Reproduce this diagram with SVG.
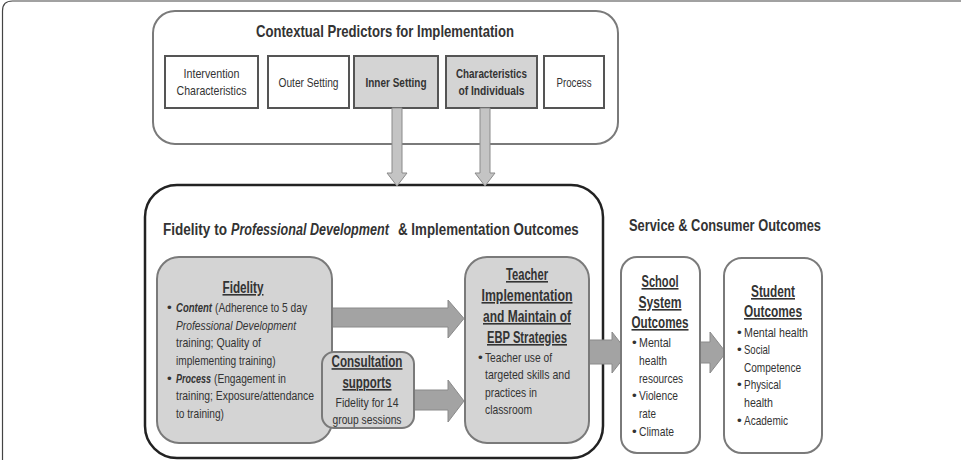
<svg xmlns="http://www.w3.org/2000/svg" width="963" height="460" viewBox="0 0 963 460">
<style>
text{font-family:"Liberation Sans",Arial,sans-serif;fill:#333}
.t{font-size:17px;font-weight:bold}
.s{font-size:13px}
.sb{font-size:13px;font-weight:bold}
.h{font-size:16px;font-weight:bold;text-decoration:underline}
.b{font-size:13.5px}
.bi{font-size:13.5px;font-weight:bold;font-style:italic}
.c{text-anchor:middle}
.box{fill:#fff;stroke:#555;stroke-width:2}
.gbox{fill:#d4d4d4;stroke:#555;stroke-width:2}
.rg{fill:#d4d4d4;stroke:#7a7a7a;stroke-width:2}
.rw{fill:#fff;stroke:#7a7a7a;stroke-width:2}
.arr{fill:#a3a3a3;stroke:#8a8a8a;stroke-width:1}
.varr{fill:#c4c4c4;stroke:#8a8a8a;stroke-width:1}
</style>
<path d="M2.5,460 V11 Q2.5,1 12.5,1 H961" fill="none" stroke="#444" stroke-width="1.2"/>

<g id="contextual-predictors">
<rect x="153" y="11" width="465" height="133" rx="22" fill="#fff" stroke="#7a7a7a" stroke-width="2"/>
<text class="t c" x="385" y="37" textLength="258" lengthAdjust="spacingAndGlyphs">Contextual Predictors for Implementation</text>
</g>
<g id="intervention-characteristics">
<rect class="box" x="165" y="56" width="93" height="52"/>
<text class="s c" x="211.5" y="78" textLength="56" lengthAdjust="spacingAndGlyphs">Intervention</text>
<text class="s c" x="211.5" y="95" textLength="70" lengthAdjust="spacingAndGlyphs">Characteristics</text>
</g>
<g id="outer-setting">
<rect class="box" x="268" y="56" width="81" height="52"/>
<text class="s c" x="308.5" y="87" textLength="60" lengthAdjust="spacingAndGlyphs">Outer Setting</text>
</g>
<g id="inner-setting">
<rect class="gbox" x="354" y="56" width="84" height="52"/>
<text class="sb c" x="396" y="87" textLength="61" lengthAdjust="spacingAndGlyphs">Inner Setting</text>
</g>
<g id="characteristics-of-individuals">
<rect class="gbox" x="446" y="56" width="91" height="52"/>
<text class="sb c" x="491.5" y="78" textLength="71" lengthAdjust="spacingAndGlyphs">Characteristics</text>
<text class="sb c" x="491.5" y="95" textLength="66" lengthAdjust="spacingAndGlyphs">of Individuals</text>
</g>
<g id="process">
<rect class="box" x="544" y="56" width="60" height="52"/>
<text class="s c" x="574" y="87" textLength="35" lengthAdjust="spacingAndGlyphs">Process</text>
</g>

<g id="fidelity-implementation">
<rect x="145" y="185" width="458" height="273" rx="32" fill="#fff" stroke="#222" stroke-width="2.5"/>
<text class="t" transform="translate(163,235) scale(0.797,1)">Fidelity to</text>
<text class="t" font-style="italic" transform="translate(231,235) scale(0.74,1)">Professional Development</text>
<text class="t" transform="translate(398,235) scale(0.785,1)">&amp; Implementation Outcomes</text>
</g>

<g id="service-consumer">
<text class="t" x="629" y="231" textLength="192" lengthAdjust="spacingAndGlyphs">Service &amp; Consumer  Outcomes</text>
</g>

<g id="connectors">
<path class="varr" d="M392,108 V173 H387 L397,186 L407,173 H402 V108 Z"/>
<path class="varr" d="M480,108 V173 H475 L485,186 L495,173 H490 V108 Z"/>
<path class="arr" d="M332,308 H448 V300 L464,318.5 L448,338 V327 H332 Z"/>
<path class="arr" d="M414,390 H448 V380 L464,401 L448,422 V410 H414 Z"/>
<path class="arr" d="M589,340 H612 V332 L628,352.5 L612,373 V364 H589 Z"/>
<path class="arr" d="M700,342 H710 V332 L726,352.5 L710,373 V363 H700 Z"/>
</g>

<g id="fidelity">
<rect class="rg" x="157" y="257" width="175" height="186" rx="22"/>
<text class="h c" x="243" y="293" textLength="41" lengthAdjust="spacingAndGlyphs">Fidelity</text>
<text class="b" x="167" y="312">•</text>
<text class="bi" transform="translate(176,312) scale(0.706,1)">Content</text>
<text class="b" transform="translate(215,312) scale(0.757,1)">(Adherence to 5 day</text>
<text class="b" x="176" y="330" font-style="italic" textLength="120" lengthAdjust="spacingAndGlyphs">Professional Development</text>
<text class="b" x="176" y="347" textLength="85" lengthAdjust="spacingAndGlyphs">training; Quality of</text>
<text class="b" transform="translate(176,365) scale(0.75,1)">implementing training)</text>
<text class="b" x="167" y="383">•</text>
<text class="bi" transform="translate(176,383) scale(0.667,1)">Process</text>
<text class="b" transform="translate(214,383) scale(0.755,1)">(Engagement in</text>
<text class="b" transform="translate(176,400) scale(0.77,1)">training; Exposure/attendance</text>
<text class="b" x="176" y="418" textLength="48" lengthAdjust="spacingAndGlyphs">to training)</text>
</g>

<g id="consultation-supports">
<rect class="rg" x="322" y="352" width="92" height="76" rx="12"/>
<text class="h c" transform="translate(367,367) scale(0.726,1)">Consultation</text>
<text class="h c" x="367" y="388" textLength="49" lengthAdjust="spacingAndGlyphs">supports</text>
<text class="b c" transform="translate(367,407) scale(0.778,1)">Fidelity for 14</text>
<text class="b c" transform="translate(367,424) scale(0.76,1)">group sessions</text>
</g>

<g id="teacher-implementation">
<rect class="rg" x="465" y="257" width="124" height="186" rx="22"/>
<text class="h c" x="527" y="280" textLength="42" lengthAdjust="spacingAndGlyphs">Teacher</text>
<text class="h c" x="527" y="301" textLength="91" lengthAdjust="spacingAndGlyphs">Implementation</text>
<text class="h c" x="527" y="322" textLength="88" lengthAdjust="spacingAndGlyphs">and Maintain of</text>
<text class="h c" x="527" y="343" textLength="80" lengthAdjust="spacingAndGlyphs">EBP Strategies</text>
<text class="b" x="478" y="362">•</text>
<text class="b" x="485" y="362" textLength="67" lengthAdjust="spacingAndGlyphs">Teacher use of</text>
<text class="b" x="485" y="379" textLength="85" lengthAdjust="spacingAndGlyphs">targeted skills and</text>
<text class="b" x="485" y="397" textLength="52" lengthAdjust="spacingAndGlyphs">practices in</text>
<text class="b" x="485" y="414" textLength="47" lengthAdjust="spacingAndGlyphs">classroom</text>
</g>

<g id="school-system-outcomes">
<rect class="rw" x="621" y="257" width="79" height="196" rx="16"/>
<text class="h c" x="660" y="287" textLength="37" lengthAdjust="spacingAndGlyphs">School</text>
<text class="h c" x="660" y="308" textLength="43" lengthAdjust="spacingAndGlyphs">System</text>
<text class="h c" x="660" y="328" textLength="57" lengthAdjust="spacingAndGlyphs">Outcomes</text>
<text class="b" x="632" y="347">•</text>
<text class="b" x="639" y="347" textLength="32" lengthAdjust="spacingAndGlyphs">Mental</text>
<text class="b" x="639" y="365" textLength="28" lengthAdjust="spacingAndGlyphs">health</text>
<text class="b" x="639" y="383" textLength="44" lengthAdjust="spacingAndGlyphs">resources</text>
<text class="b" x="632" y="400">•</text>
<text class="b" x="639" y="400" textLength="39" lengthAdjust="spacingAndGlyphs">Violence</text>
<text class="b" x="639" y="418" textLength="17" lengthAdjust="spacingAndGlyphs">rate</text>
<text class="b" x="632" y="436">•</text>
<text class="b" x="639" y="436" textLength="35" lengthAdjust="spacingAndGlyphs">Climate</text>
</g>

<g id="student-outcomes">
<rect class="rw" x="724" y="258" width="98" height="195" rx="18"/>
<text class="h c" x="773" y="297" textLength="44" lengthAdjust="spacingAndGlyphs">Student</text>
<text class="h c" x="773" y="317" textLength="58" lengthAdjust="spacingAndGlyphs">Outcomes</text>
<text class="b" x="737" y="337">•</text>
<text class="b" x="744" y="337" textLength="64" lengthAdjust="spacingAndGlyphs">Mental health</text>
<text class="b" x="737" y="354">•</text>
<text class="b" x="744" y="354" textLength="26" lengthAdjust="spacingAndGlyphs">Social</text>
<text class="b" x="744" y="372" textLength="57" lengthAdjust="spacingAndGlyphs">Competence</text>
<text class="b" x="737" y="389">•</text>
<text class="b" x="744" y="389" textLength="37" lengthAdjust="spacingAndGlyphs">Physical</text>
<text class="b" x="744" y="407" textLength="29" lengthAdjust="spacingAndGlyphs">health</text>
<text class="b" x="737" y="425">•</text>
<text class="b" x="744" y="425" textLength="44" lengthAdjust="spacingAndGlyphs">Academic</text>
</g>
</svg>
